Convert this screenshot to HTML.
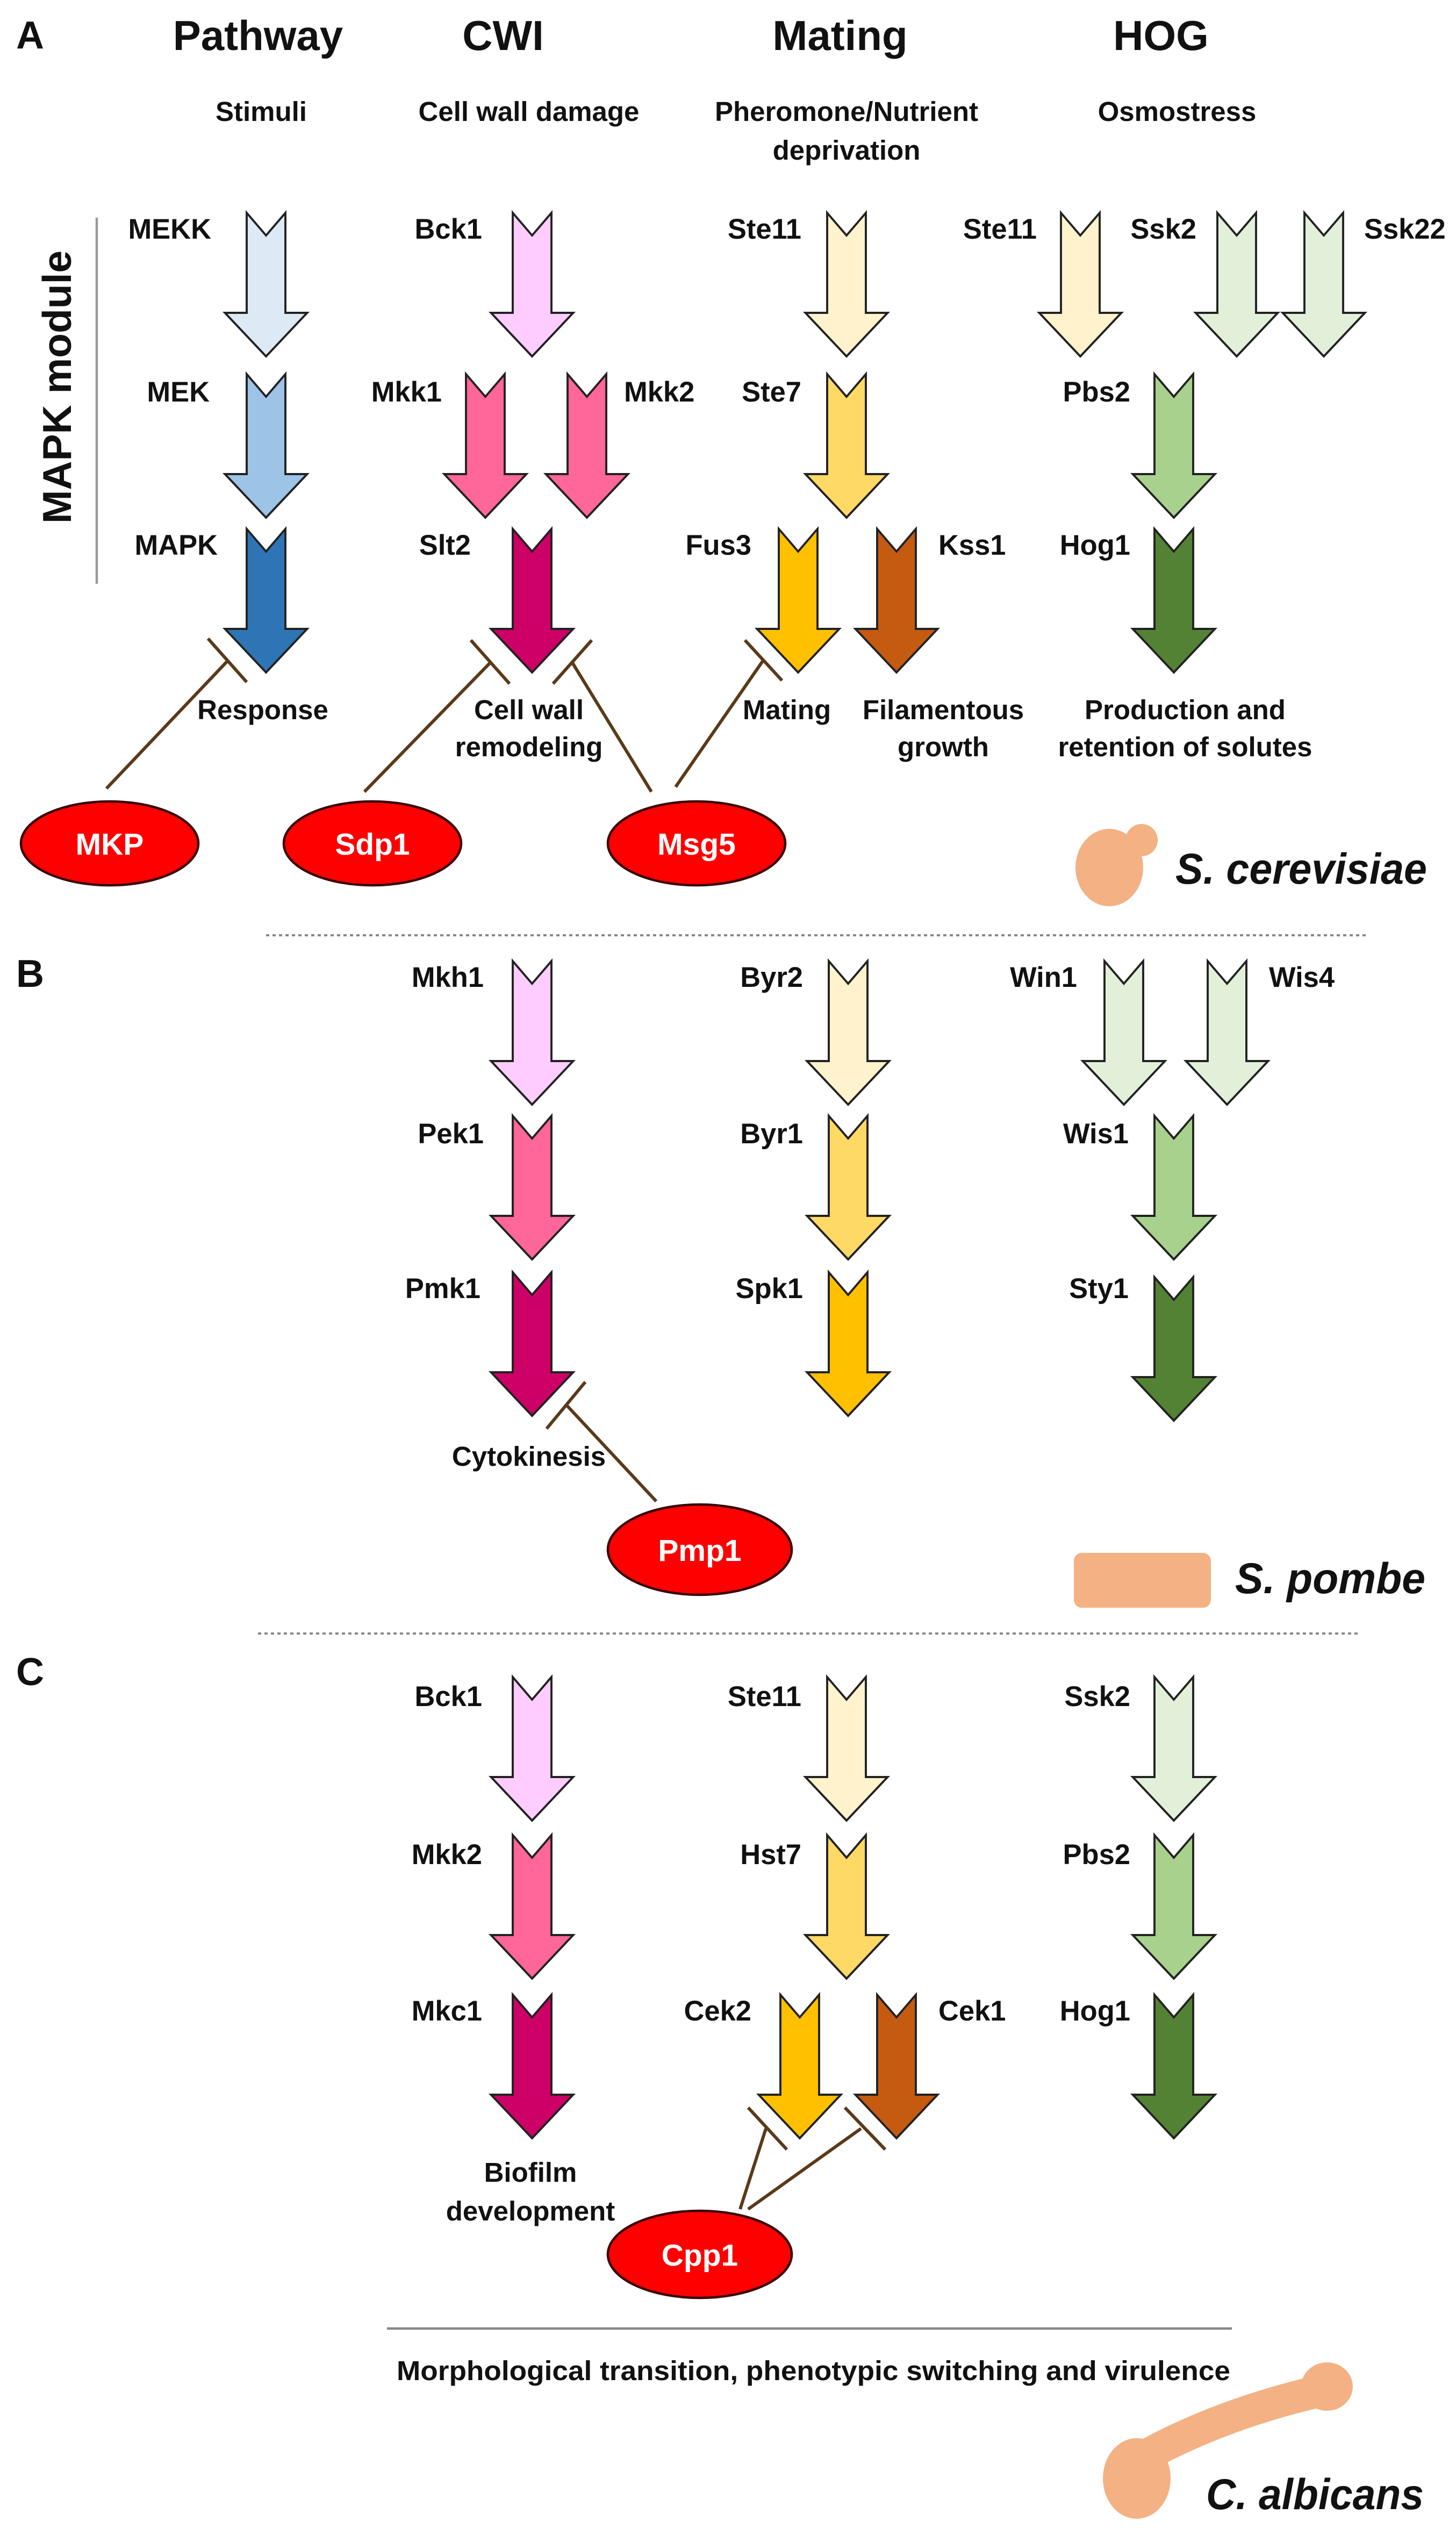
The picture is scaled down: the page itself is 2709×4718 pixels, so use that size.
<!DOCTYPE html>
<html><head><meta charset="utf-8">
<style>
html,body{margin:0;padding:0;background:#fff;}
svg{display:block;}
text{font-family:"Liberation Sans",sans-serif;font-weight:bold;fill:#111;}
.t{font-size:26px;}
.s{font-size:17px;}
.l{font-size:17.5px;}
.w{font-size:19px;fill:#fff;}
.sp{font-size:27px;font-style:italic;}
.a{stroke:#222;stroke-width:1.3;}
.inh{stroke:#5a3a1a;stroke-width:2;fill:none;}
</style></head>
<body>
<svg width="2709" height="4718" viewBox="0 0 903 1572.67" xmlns="http://www.w3.org/2000/svg">
<defs>
<path id="arr" d="M-12,0 L0,14 L12,0 L12,62 L25.5,62 L0,89 L-25.5,62 L-12,62 Z"/>
</defs>
<!-- Panel A headers -->
<text x="10" y="30" style="font-size:24px">A</text>
<text class="t" x="160" y="31" text-anchor="middle">Pathway</text>
<text class="t" x="312" y="31" text-anchor="middle">CWI</text>
<text class="t" x="521" y="31" text-anchor="middle">Mating</text>
<text class="t" x="720" y="31" text-anchor="middle">HOG</text>
<text class="s" x="162" y="75" text-anchor="middle">Stimuli</text>
<text class="s" x="328" y="75" text-anchor="middle">Cell wall damage</text>
<text class="s" x="525" y="75" text-anchor="middle">Pheromone/Nutrient</text>
<text class="s" x="525" y="99" text-anchor="middle">deprivation</text>
<text class="s" x="730" y="75" text-anchor="middle">Osmostress</text>

<text x="44" y="240" text-anchor="middle" transform="rotate(-90 44 240)" style="font-size:25px">MAPK module</text>
<line x1="60" y1="135" x2="60" y2="362" stroke="#999" stroke-width="1.5"/>

<!-- A arrows -->
<use href="#arr" x="165" y="132" class="a" fill="#dde9f5"/>
<use href="#arr" x="165" y="232" class="a" fill="#9dc3e6"/>
<use href="#arr" x="165" y="328" class="a" fill="#2e75b6"/>
<use href="#arr" x="330" y="132" class="a" fill="#ffccff"/>
<use href="#arr" x="301" y="232" class="a" fill="#ff6699"/>
<use href="#arr" x="364" y="232" class="a" fill="#ff6699"/>
<use href="#arr" x="330" y="328" class="a" fill="#cc0066"/>
<use href="#arr" x="525" y="132" class="a" fill="#fff2cc"/>
<use href="#arr" x="525" y="232" class="a" fill="#ffd966"/>
<use href="#arr" x="495" y="328" class="a" fill="#ffc000"/>
<use href="#arr" x="556" y="328" class="a" fill="#c55a11"/>
<use href="#arr" x="670" y="132" class="a" fill="#fff2cc"/>
<use href="#arr" x="767" y="132" class="a" fill="#e2f0d9"/>
<use href="#arr" x="821" y="132" class="a" fill="#e2f0d9"/>
<use href="#arr" x="728" y="232" class="a" fill="#a9d18e"/>
<use href="#arr" x="728" y="328" class="a" fill="#548235"/>

<!-- A labels -->
<text class="l" x="131" y="148" text-anchor="end">MEKK</text>
<text class="l" x="130" y="249" text-anchor="end">MEK</text>
<text class="l" x="135" y="344" text-anchor="end">MAPK</text>
<text class="l" x="299" y="148" text-anchor="end">Bck1</text>
<text class="l" x="274" y="249" text-anchor="end">Mkk1</text>
<text class="l" x="387" y="249">Mkk2</text>
<text class="l" x="292" y="344" text-anchor="end">Slt2</text>
<text class="l" x="497" y="148" text-anchor="end">Ste11</text>
<text class="l" x="497" y="249" text-anchor="end">Ste7</text>
<text class="l" x="466" y="344" text-anchor="end">Fus3</text>
<text class="l" x="582" y="344">Kss1</text>
<text class="l" x="643" y="148" text-anchor="end">Ste11</text>
<text class="l" x="742" y="148" text-anchor="end">Ssk2</text>
<text class="l" x="846" y="148">Ssk22</text>
<text class="l" x="701" y="249" text-anchor="end">Pbs2</text>
<text class="l" x="701" y="344" text-anchor="end">Hog1</text>

<text class="s" x="163" y="446" text-anchor="middle">Response</text>
<text class="s" x="328" y="446" text-anchor="middle">Cell wall</text>
<text class="s" x="328" y="469" text-anchor="middle">remodeling</text>
<text class="s" x="488" y="446" text-anchor="middle">Mating</text>
<text class="s" x="585" y="446" text-anchor="middle">Filamentous</text>
<text class="s" x="585" y="469" text-anchor="middle">growth</text>
<text class="s" x="735" y="446" text-anchor="middle">Production and</text>
<text class="s" x="735" y="469" text-anchor="middle">retention of solutes</text>

<!-- A inhibitions -->
<line class="inh" x1="66" y1="489" x2="141" y2="410"/><line class="inh" x1="129" y1="396" x2="153" y2="423"/>
<line class="inh" x1="226" y1="491" x2="304" y2="411"/><line class="inh" x1="292" y1="397" x2="316" y2="424"/>
<line class="inh" x1="404" y1="491" x2="355" y2="411"/><line class="inh" x1="367" y1="397" x2="343" y2="424"/>
<line class="inh" x1="419" y1="488" x2="473" y2="410"/><line class="inh" x1="462" y1="397" x2="485" y2="422"/>

<ellipse cx="68" cy="523" rx="55" ry="26" fill="#ff0000" stroke="#3a0000" stroke-width="1.5"/>
<text class="w" x="68" y="530" text-anchor="middle">MKP</text>
<ellipse cx="231" cy="523" rx="55" ry="26" fill="#ff0000" stroke="#3a0000" stroke-width="1.5"/>
<text class="w" x="231" y="530" text-anchor="middle">Sdp1</text>
<ellipse cx="432" cy="523" rx="55" ry="26" fill="#ff0000" stroke="#3a0000" stroke-width="1.5"/>
<text class="w" x="432" y="530" text-anchor="middle">Msg5</text>

<ellipse cx="688" cy="538" rx="21" ry="24" fill="#f4b183"/>
<circle cx="708" cy="521" r="10" fill="#f4b183"/>
<text class="sp" x="729" y="548" textLength="156" lengthAdjust="spacingAndGlyphs">S. cerevisiae</text>

<line x1="165" y1="580" x2="848" y2="580" stroke="#888" stroke-width="1.3" stroke-dasharray="2,2"/>

<!-- Panel B -->
<text x="10" y="612" style="font-size:24px">B</text>
<use href="#arr" x="330" y="596" class="a" fill="#ffccff"/>
<use href="#arr" x="330" y="692" class="a" fill="#ff6699"/>
<use href="#arr" x="330" y="789" class="a" fill="#cc0066"/>
<use href="#arr" x="526" y="596" class="a" fill="#fff2cc"/>
<use href="#arr" x="526" y="692" class="a" fill="#ffd966"/>
<use href="#arr" x="526" y="789" class="a" fill="#ffc000"/>
<use href="#arr" x="697" y="596" class="a" fill="#e2f0d9"/>
<use href="#arr" x="761" y="596" class="a" fill="#e2f0d9"/>
<use href="#arr" x="728" y="692" class="a" fill="#a9d18e"/>
<use href="#arr" x="728" y="792" class="a" fill="#548235"/>

<text class="l" x="300" y="612" text-anchor="end">Mkh1</text>
<text class="l" x="300" y="709" text-anchor="end">Pek1</text>
<text class="l" x="298" y="805" text-anchor="end">Pmk1</text>
<text class="l" x="498" y="612" text-anchor="end">Byr2</text>
<text class="l" x="498" y="709" text-anchor="end">Byr1</text>
<text class="l" x="498" y="805" text-anchor="end">Spk1</text>
<text class="l" x="668" y="612" text-anchor="end">Win1</text>
<text class="l" x="787" y="612">Wis4</text>
<text class="l" x="700" y="709" text-anchor="end">Wis1</text>
<text class="l" x="700" y="805" text-anchor="end">Sty1</text>

<text class="s" x="328" y="909" text-anchor="middle">Cytokinesis</text>
<line class="inh" x1="407" y1="931" x2="351" y2="871"/><line class="inh" x1="363" y1="857" x2="339" y2="886"/>
<ellipse cx="434" cy="961" rx="57" ry="28" fill="#ff0000" stroke="#3a0000" stroke-width="1.5"/>
<text class="w" x="434" y="968" text-anchor="middle">Pmp1</text>

<rect x="666" y="963" width="85" height="34" rx="5" fill="#f4b183"/>
<text class="sp" x="766" y="988" textLength="118" lengthAdjust="spacingAndGlyphs">S. pombe</text>

<line x1="160" y1="1013" x2="842" y2="1013" stroke="#888" stroke-width="1.3" stroke-dasharray="2,2"/>

<!-- Panel C -->
<text x="10" y="1045" style="font-size:24px">C</text>
<use href="#arr" x="330" y="1040" class="a" fill="#ffccff"/>
<use href="#arr" x="330" y="1138" class="a" fill="#ff6699"/>
<use href="#arr" x="330" y="1237" class="a" fill="#cc0066"/>
<use href="#arr" x="525" y="1040" class="a" fill="#fff2cc"/>
<use href="#arr" x="525" y="1138" class="a" fill="#ffd966"/>
<use href="#arr" x="496" y="1237" class="a" fill="#ffc000"/>
<use href="#arr" x="556" y="1237" class="a" fill="#c55a11"/>
<use href="#arr" x="728" y="1040" class="a" fill="#e2f0d9"/>
<use href="#arr" x="728" y="1138" class="a" fill="#a9d18e"/>
<use href="#arr" x="728" y="1237" class="a" fill="#548235"/>

<text class="l" x="299" y="1058" text-anchor="end">Bck1</text>
<text class="l" x="299" y="1156" text-anchor="end">Mkk2</text>
<text class="l" x="299" y="1253" text-anchor="end">Mkc1</text>
<text class="l" x="497" y="1058" text-anchor="end">Ste11</text>
<text class="l" x="497" y="1156" text-anchor="end">Hst7</text>
<text class="l" x="466" y="1253" text-anchor="end">Cek2</text>
<text class="l" x="582" y="1253">Cek1</text>
<text class="l" x="701" y="1058" text-anchor="end">Ssk2</text>
<text class="l" x="701" y="1156" text-anchor="end">Pbs2</text>
<text class="l" x="701" y="1253" text-anchor="end">Hog1</text>

<text class="s" x="329" y="1353" text-anchor="middle">Biofilm</text>
<text class="s" x="329" y="1377" text-anchor="middle">development</text>

<line class="inh" x1="459" y1="1370" x2="475" y2="1320"/><line class="inh" x1="464" y1="1307" x2="488" y2="1333"/>
<line class="inh" x1="464" y1="1370" x2="534" y2="1320"/><line class="inh" x1="524" y1="1307" x2="549" y2="1333"/>
<ellipse cx="434" cy="1398" rx="57" ry="27" fill="#ff0000" stroke="#3a0000" stroke-width="1.5"/>
<text class="w" x="434" y="1405" text-anchor="middle">Cpp1</text>

<line x1="240" y1="1444" x2="764" y2="1444" stroke="#888" stroke-width="1.5"/>
<text class="s" x="246" y="1476" textLength="517" lengthAdjust="spacingAndGlyphs">Morphological transition, phenotypic switching and virulence</text>

<path d="M712,1522 Q760,1496 822,1482" stroke="#f4b183" stroke-width="20" fill="none" stroke-linecap="round"/>
<ellipse cx="823" cy="1480" rx="16" ry="15" fill="#f4b183"/>
<ellipse cx="705" cy="1537" rx="21" ry="25" fill="#f4b183"/>
<text class="sp" x="748" y="1556" textLength="135" lengthAdjust="spacingAndGlyphs">C. albicans</text>
</svg>
</body></html>
